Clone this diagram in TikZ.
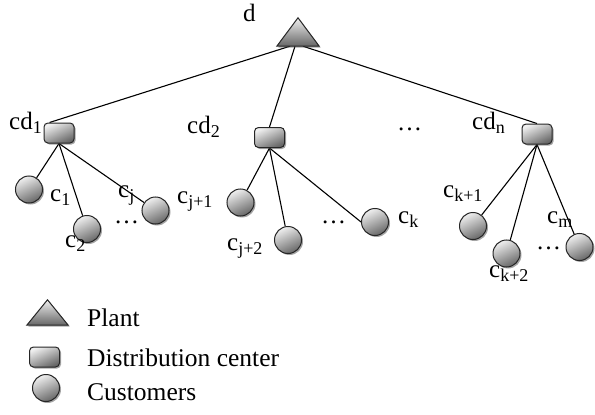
\documentclass[tikz,border=0pt]{standalone}
\usepackage{fontspec}
\setmainfont{Liberation Serif}
\usetikzlibrary{shadows,backgrounds,calc}
\newcommand\sbx[1]{\raisebox{-0.4ex}{\fontsize{18}{20}\selectfont #1}}
\tikzset{
  conn/.style={draw, line width=1.1pt},
  shade3d/.style={shading=axis, top color=gray!12, bottom color=gray!80!black,
    shading angle=25, draw=black!85, line width=1pt,
    drop shadow={shadow xshift=1.5pt, shadow yshift=-1.5pt, opacity=0.5, fill=black!70}},
  dcbox/.style={shade3d, rectangle, rounded corners=4pt, minimum width=30pt, minimum height=20pt, inner sep=0},
  cust/.style={shade3d, circle, minimum size=27pt, inner sep=0},
  plantbox/.style={rectangle, minimum width=42pt, minimum height=28pt, inner sep=0},
  lab/.style={anchor=base west, inner sep=0, font=\fontsize{25}{30}\selectfont},
  dotslab/.style={lab, text height=3pt, text depth=0pt},
  leg/.style={anchor=base west, inner sep=0, font=\fontsize{25.5}{30}\selectfont},
}
\begin{document}
\begin{tikzpicture}[x=1pt, y=-1pt]
\useasboundingbox (0,0) rectangle (595,415);
% plant
\node[plantbox] (d) at (298,32) {};
\path[shade3d, shading angle=0] (d.south west) -- (d.north) -- (d.south east) -- cycle;
% distribution centers
\node[dcbox] (cd1) at (59,133) {};
\node[dcbox] (cd2) at (269.5,137.5) {};
\node[dcbox] (cdn) at (537,134) {};
% customers
\node[cust] (c1) at (29,189.5) {};
\node[cust] (c2) at (87,229) {};
\node[cust] (cj) at (155.5,210.5) {};
\node[cust] (cj1) at (240.5,202.5) {};
\node[cust] (cj2) at (288,240) {};
\node[cust] (ck) at (375,222) {};
\node[cust] (ck1) at (473,226) {};
\node[cust] (ck2) at (506.5,253.5) {};
\node[cust] (cm) at (579.5,247) {};
% connectors
\begin{scope}[on background layer]
\draw[conn] ($(d.south)+(-8,0)$) -- ($(cd1.north west)+(6,0)$);
\draw[conn] ($(d.south)+(-3,0)$) -- (cd2.north);
\draw[conn] ($(d.south)+(5,0)$) -- (cdn.north);
\draw[conn] (cd1.south) -- (c1);
\draw[conn] (cd1.south) -- (c2);
\draw[conn] (cd1.south) -- (cj);
\draw[conn] (cd2.south) -- (cj1);
\draw[conn] (cd2.south) -- (cj2);
\draw[conn] (cd2.south) -- (ck.west);
\draw[conn] (cdn.south) -- (ck1);
\draw[conn] (cdn.south) -- (ck2);
\draw[conn] (cdn.south) -- (cm);
\end{scope}
% labels
\node[lab] (ld) at (243,21) {d};
\node[lab] (lcd1) at (9,129) {cd\sbx{1}};
\node[lab] (lcd2) at (187,133) {cd\sbx{2}};
\node[dotslab] (ldots0) at (397,130) {…};
\node[lab] (lcdn) at (472,129) {cd\sbx{n}};
\node[lab] (lc1) at (50,201) {c\sbx{1}};
\node[lab] (lc2) at (65,247) {c\sbx{2}};
\node[lab] (lcj) at (118,197) {c\sbx{j}};
\node[dotslab] (ldots1) at (114,223) {…};
\node[lab] (lcj1) at (177,203) {c\sbx{j+1}};
\node[lab] (lcj2) at (227,250) {c\sbx{j+2}};
\node[dotslab] (ldots2) at (321,223) {…};
\node[lab] (lck) at (398,223) {c\sbx{k}};
\node[lab] (lck1) at (443,197) {c\sbx{k+1}};
\node[lab] (lcm) at (547,223) {c\sbx{m}};
\node[dotslab] (ldots3) at (536,249) {…};
\node[lab] (lck2) at (489,277) {c\sbx{k+2}};
% legend
\node[plantbox, minimum width=41pt, minimum height=25pt] (lgp) at (47.5,312.5) {};
\path[shade3d, shading angle=0] (lgp.south west) -- (lgp.north) -- (lgp.south east) -- cycle;
\node[dcbox] (lgd) at (44.5,357) {};
\node[cust] (lgc) at (46,388) {};
\node[leg] (tp) at (87,326) {Plant};
\node[leg] (td) at (87,366) {Distribution center};
\node[leg] (tc) at (87,400) {Customers};
\end{tikzpicture}
\end{document}
